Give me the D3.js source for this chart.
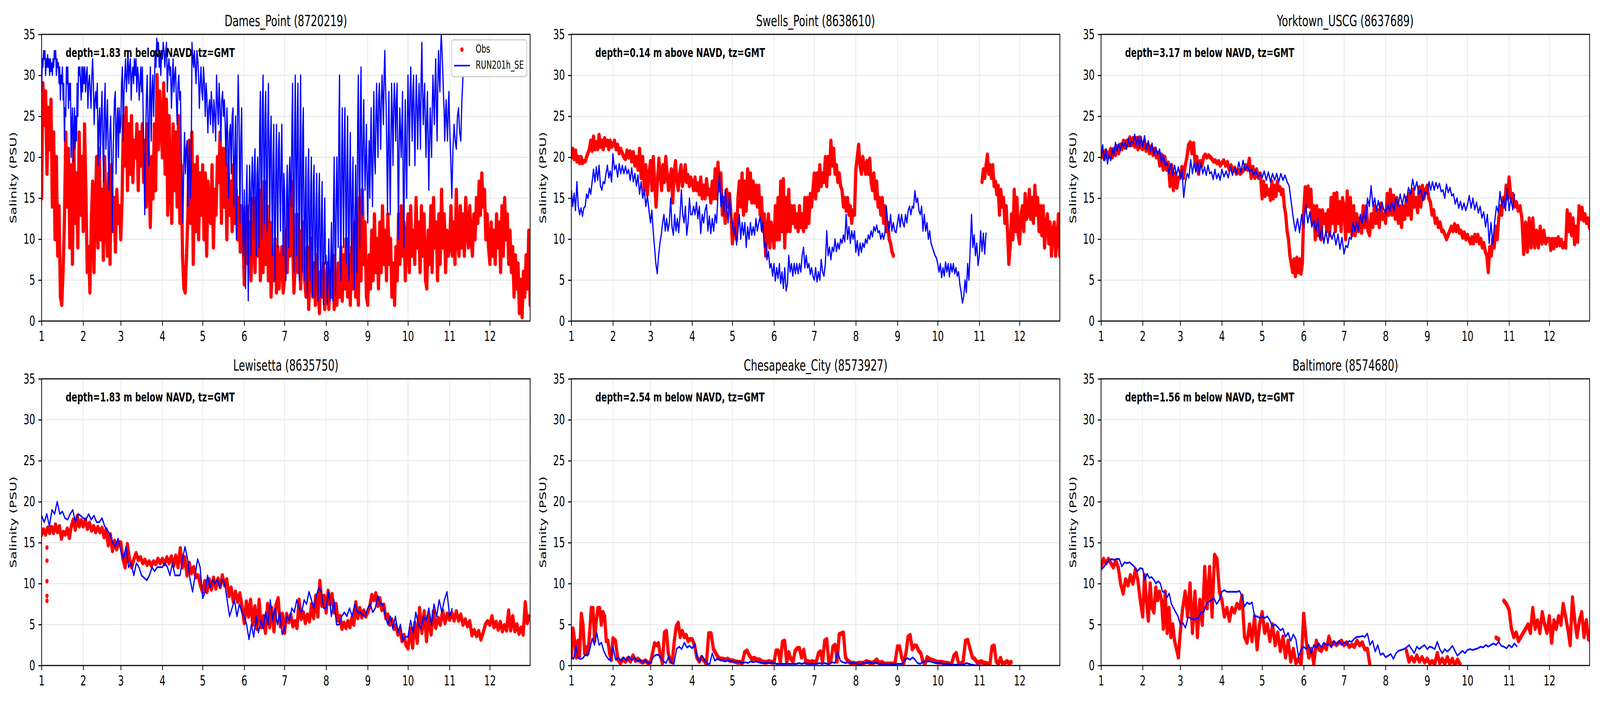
<!DOCTYPE html>
<html>
<head>
<meta charset="utf-8">
<script src="https://cdn.jsdelivr.net/npm/d3@7"></script>
<style>
html, body { margin: 0; background: #fff; overflow: hidden; }
text { font-family: "DejaVu Sans", sans-serif; fill: #000; }
</style>
</head>
<body>
<script>
var year = 2017;
var gap = function(n) { return Array(n).fill(null); };

var stationNames = ["Dames_Point", "Swells_Point", "Yorktown_USCG", "Lewisetta", "Chesapeake_City", "Baltimore"];
var stationIds = ["8720219", "8638610", "8637689", "8635750", "8573927", "8574680"];
var depthNotes = ["1.83 m below", "0.14 m above", "3.17 m below", "1.83 m below", "2.54 m below", "1.56 m below"];
var monthLabels = [1, 2, 3, 4, 5, 6, 7, 8, 9, 10, 11, 12];
var salinityTicks = [0, 5, 10, 15, 20, 25, 30, 35];
var legendLabels = ["Obs", "RUN201h_SE"];

// every series is one list per month. values spread evenly inside the month
var damesObs = [
  [15,29,24,28,18,26,21,27,14,23,10,20,8,14,3,2,6,12,23,14,21,9,19,7,22,12,18,9,23,13,20],
  [11,24,16,6,9,3.5,12,17,6,14,20,9,21,10,16,7.5,20,12,8,18,7,19,11,15,8.5,16,12,14],
  [10,15,25,19,26,16,24,18,25,17,22,20,24,16,23,19,24,17,22,14,24,18,11.5,20,15,24,16,30,21,28,24],
  [20,29,18,27,13,25,17,12,24,16,23,14,25,12,19,8,4,3.5,8,13,22,12,23,7,19,11,20,10,18,13],
  [19,10,18,8,17,13,12,19,9,16,13,20,17,23,12,21,14,21,10,19,13,17,11,19,12,16,10,15,8.5,14,11],
  [4.5,9,14,7,12,5,10,15,6,13,8,16,5,13,6,17,7,14,5,12,3,8,5,10,3.5,9,4,7,9,3.5],
  [5,11,6,14,8,17,10,3.5,7,13,6,11,4,9,12,5,3,9,1.5,6,10,3,7,2,8,4,1,6,3,7,1.5],
  [4,7,1.5,6,3,8,1.5,5,2,7,3,9,2.5,8,4,10,3,8,2,9,4,12,3,7,2,15,5,16,7,12,3],
  [2,8,4,11,5,13,6,10,4,12,6,14,7,11,5,13,7,10,3,7,2,9,5,13,7,14,8,12,5,10],
  [13,6,14,8,11,7,15,9,12,6,14,8,13,5,4,11,7,14,6,15,9,12,5,13,7,16,9,13,6,11,8],
  [9,14,8,12,7,16,10,8,14,9,13,8,15,11,9,14,10,8,13,10,15,12,17,13,18,14,16,10,13,9],
  [7,12,8,11,7,13,9,12,6,14,8,15,10,13,7,11,6,9,3,8,4,7,1,5,0.5,6,3,8,4,11,2]
];
var damesModel = [
  [28,32,31,33,32,33,30,32,31,32.5,31,32,30,32,30.5,31.5,30,32,31,33,32,33,30,32,31,31.5,29,31,27,30,29,31,27,29,22,26,25,31,29,31,26,29,27,29,20,24,26,19.5,23,26,21,25,22,29,25,31,30,31,29,27,31,28],
  [31,29,31,28,30,31,26,29,30,28,26,30,32,29,24,27,28,26,29,19,24,26,20,25,28,22,17,26,29,21,24,27,20,16,23,25,21,11,19,24,27,28,18,24,26,20,26,23],
  [24,29,31,22,28,30,32,28,30,33,29,31,32,27,30,31,29,32,30,32,28,31,30,27,29,31,28,31,25,19,13,22,27,30,24,19,27,31,22,28,30,25,29,33,31,34.5,33,34,31,33,30,33],
  [32,34,33,31,33,34,28,31,32,30,31,26,29,32,28,30,31,27,24,29,30,27,28,20,17,12,19,23,18,21,22,14,19,22,15,18,34,32,31,33,31,29,33,32,30,26,29,31,28],
  [27,31,29,25,29,27,23,26,27,24,28,26,23,27,25,22,30,27,24,29,26,22,27,28,25,27,24,19,26,22,15,23,24,18,25,26,14,20,25,10,23,30,25,12,22,26,13,8],
  [16,10,4,15,19,10,2.5,14,19,15,8,17,20,16,10,19,21,14,8,18,20,15,9,24,28,17,10,26,30,20,12,25,28,18,11,24,29,20,12,22,25,15,8,20,24,11,5,19,24,14,9,21,23,16,11,20,24,15,8,18],
  [16,8,5,15,19,13,9,18,20,16,14,24,29,14,6,22,30,18,8,25,29,15,5,21,30,14,6,23,26,12,5,15,20,8,3,18,21,10,5,16,20,7,3,17,19,9,3,14,18,7,2.5,15,18,8,3,13,17,6,2,11,15,7],
  [8,4,2,7,10,5,2.5,8,12,6,2.5,14,20,9,3,15,20,14,9,24,30,13,5,19,26,16,9,22,26,15,7,19,25,12,5,17,23,13,6,16,20,10,4,13,19,12,6,24,30,18,9,25,31,20,13,22,27,21,16,20,24,17],
  [12,18,22,15,21,26,18,14,22,28,20,18,25,29,24,20,27,29,25,21,27,30,27,24,30,33,29,26,20,13,22,28,19,13,22,29,25,19,26,29,26,22,27,29,20,10,21,26,23,20,24,28,16,9,21,27,19,15,24],
  [30,25,19,28,31,26,22,28,30,24,19,26,30,26,21,26,29,25,21,30,34,28,24,27,29,24,20,25,28,22,16,22,26,23,20,26,30,27,24,29,32,26,22,29,33,30,28,33,35,33,31,28,26,22,25,27,24,22,26,28],
  [24,20,15,21,24,22,21,25,26,23,22,27,30].concat(gap(23)),
  []
];
var swellsObs = [
  [20,21,19.8,20.8,19.5,20,19.3,20,19.3,19.5,19.5,20,20.5,21,22,20.8,22.5,21,21.8,21,22.7,21.3,22,21,22.3,21.5,22,21,22,21.3],
  [21.5,22,21,21.5,20.5,21,20.5,20,19.8,20.8,20,20.7,19.5,20.6,19,20,18.5,21,17.5,20,16,19,15.5,18],
  [19.5,16,20,17,14,17,19.8,18,16,19,17,20,18,16,17.5,18.5,14.5,18,19.5,17,16,18,19,16.5,17.5,19,17,17.8,16.5,17.5],
  [17,16,17.5,16,16.8,15.5,17.5,15,16.5,15,17.3,15.5,16,14.5,17,15,18.5,15,19.3,16,18,13,15,12,16,14,15.5,13],
  [9.5,11,13,10,15,17,14,18,13,17,13.5,18.5,15,18,14.5,17,14.5,16.5,14,16.5,13,15,11,13,8,11,13,9,12,11],
  [9,14,10,15,10,17,11,17.3,9,15,11,16,11,14,12,14,11.5,13,11,14,11.5,13,11,15,11.5,15,12,15.5,14,16],
  [18,15,18,16,19,16.5,18,17,20,16.5,20,18,22,19,21,18,19,17,18,16.5,16,14,15,13.5,15,13,14,12,13.5,13],
  [18.5,20,21.5,19,18,20,19,18,19.5,18,19.8,17,16,18,15,17,14,15,13,15,12,14,11,12,10,9.5,8.5,8,null,null],
  gap(15),
  gap(15),
  [null,null,17,18.5,17.5,19,20.3,18,19,17.5,19,16.5,17,15.5,16.5,13,16,14,15,12,14,11,7,9,13,10,16,11,15,10.5],
  [9.5,13,14,11,15.5,12.5,13,16,12.5,15,12,16.5,13,15,11,14,10.5,14,9,12,13,9.5,12,8,11,12,8,10,13,8]
];
var swellsModel = [
  [16,14,15.6,13.5,17,14,13,13.8,12.8,13.8,14,15.5,15,16.2,15.5,17,18.5,17,18.8,17.2,19,16.5,16,17,16.8,18,19,17.5,18.3,17],
  [20.4,18.5,19,17.6,19.2,18,19,18,18.9,18,18.5,17.2,18.7,17,18,16.5,17.8,15.5,17,15,16,14,15.3,13.5],
  [12,13.5,11,9,7,5.8,8,9.5,10.5,12,13,11,12.5,11,12,15,11.5,10.5,13,11,12.5,10.8,13,16,13,12,14,10.5,12,15,13],
  [13,14,13,14.5,12.5,14,10.7,13,12,13.5,14.2,11,12.8,10.7,12.5,11,13,12,15.5,18,14,15.5,13,16,14,12,15.5,13],
  [12,10.5,11.5,9.3,11,13,10,12,10.5,12,9,11.5,10,12,10.5,11.5,10.5,12.5,11,12,12.7,11,12,9,9.5,7.5,8.5,6.5,7,5.5],
  [7,4.9,6.5,5.2,7,4.6,6,4,6.5,3.7,4.5,8,6,7,5.5,7,5.8,7,5.8,7,6,8,9,6.5,8,6.5,7,5.7,6.5,5.5],
  [5,6.5,4.8,6,5,7.5,6,5.5,7,11,8,9,7.5,9,8.5,10,8.5,9.5,8.8,10,9.5,10.5,9.7,13,10,11.5,9.5,11,10,11],
  [8.4,9.8,8,9.5,8.4,9.5,9,10,9.5,10.5,10,11,10.3,11.5,11,11.7,10.8,11,10,10.7,10,10.8,14,12,11,13,11,12,11,10.8],
  [12,13,11.5,13,12,11.5,13,12,13.5,14,13,14,13.8,15.9,14.5,15,13.5,13,14,11,13,11,12,10,11,9.5,9,8.5,8,7.7],
  [7,6,7,5.3,6.5,5.5,7.2,6,7,5.4,7,6,7,5.8,6.5,5.5,6,4.5,3.5,2.2,3,5,3.5,7,5,9,13,9,10.5,8,9.5,6.8],
  [8,11,8.5,10.7,8.2,10.8].concat(gap(24)),
  []
];
var yorktownObs = [
  [20,20.7,19.8,20.8,20,20.5,21,20,21,20.3,21.3,20.5,21.5,21,22,21.2,22,21.5,22.4,21.5,22.3,21.3,22.3,21,22.4,21.2],
  [21,22,20.8,21.5,20.5,21.3,20.3,21,20,20.5,19,20.3,18.5,20,18.5,19.3,16.5,19,16,18,16.3,17.5],
  [17.5,18.8,17.5,19,20,21.5,21.8,20.5,21.7,19,20,18,19.5,19,20,20.3,20,20.2,20,19.8,19.5,19.6,19.3,19.5,19],
  [19.3,19.6,19,19.4,18.5,19,18.3,18.7,18,18.4,18,18.2,18.5,19,18.5,19.8,17.5,18.8,17.5,18.5,17.5,18],
  [15,17,15.3,16.5,15.5,16,14.8,17,15,16.5,15.3,17,16,16.3,15.5,16,14,13,11,10,8,7,6,7.5,5.5,7.7,6,7.5,5.8,7],
  [13.5,16.3,14,16.4,14,16,12,14,10,14,10.5,13.5,10,13.5,12,13,11,13.5,10.5,15,12,15.5,11,15.6,12,14.5,11,15],
  [14,10,15.8,11,15,10.5,14,10.5,13,11,12.5,10.8,14,11.5,14,11,10.5,13,11.5,14,12,13.5,11.5,14.3,12.5,13],
  [12,15.5,13,16,13,15.3,12.5,15,12,14,11.5,14,12.5,15,13,15.5,12.5,16,14,15,13.3,16.3,14,16.5,15,16],
  [16.5,15,14.5,13,13.5,12,12.5,11.5,12,11,11,10.5,10,10.5,11,11.5,11,11.8,11,11.6,10.8,11,10.2,10.8,10],
  [10.5,10,9.5,10.2,9.5,10.5,9.8,10.5,9.5,10,9,9.5,8.5,8,6,9,8,10,9,11.5,10,12.5,14,13,15,14,16.5,15],
  [17.5,15,15.5,14,14.5,13.5,14,12.5,8.2,12,8.5,12.5,9,12.5,9,11,9,11.5,9.5,11,9.5,10],
  [10,8.7,10,8.9,10,9.2,10.2,9.3,9.9,9,9.5,9,13.5,11,13,10.5,12.5,9.4,11.5,9.7,14,12.5,13.8,12.3,13,12,12.5,11.4]
];
var yorktownModel = [
  [20,21.5,19.6,21,19.2,20.3,19.6,21,20.3,21.8,20.8,21.6,20.8,21.8,21.2,21.8,21,22.3,21.3,22,21.7,22.8,21.5,22.5,21.2,22.5],
  [21.3,22.6,21,22,20.8,21.7,20.3,21.2,20.3,21,19.3,20.3,19,19.3,18,19.2,17.8,19,17.8,18.8],
  [17.5,18.5,15.1,17,18,17.5,19.7,18,19.3,18.2,19.5,18,19.2,18,18.8,17.8,19,18,18.2,17.3,18.5,17.4,18,17.2],
  [18.5,17.6,18.3,17.5,18.8,17.8,18.7,18,19.4,18.2,19.6,18.4,19,18.2,18.6,17.8,18.4,17.6,18],
  [17.5,18.3,17.2,18.2,17,18,17.2,18,17,18,17.2,17.8,17,16.5,14.5,12.5,11,12.5,10.8,13],
  [11.5,14.2,12,13.3,11.5,12.3,11,12.5,10,11.5,9.5,11,9.5,11,10,10.8,9.3,10.6,8.8,10.2],
  [8.2,9.2,9,10.2,10,12,11,12,11,13,12,13.3,12,15,14,16.5,14,15,13.5,14.7,13.5,14.5,13.6],
  [13.2,14.3,13.4,14.5,13.5,15,14,15.5,14.2,15.5,14.5,16.3,15.5,17.3,16,17,15.5,16,14.7,15.8],
  [15.5,17,16,17,16,16.9,16.2,16.8,15.8,16,15,16.7,15.7,16.3,15.3,15.5,14.3,15,13.8,14.6,13.6,14.4,13.5],
  [14.2,15.3,13.8,15,13.6,14.5,13.2,14,12.6,13.3,11.5,13,9.5,12,9.4,12,14,13.3,15.8,14,15,13.5,16.2],
  [13.5,15,13.6,15.5].concat(gap(18)),
  []
];
var lewisettaObs = [
  [16,16.6,16,16.8,16.2,16.9,16.2,17.2,16.3,17,15.5,16.3,16,16.7,15.6,17,17.8,16.6,18.2,17,17.7],
  [17,17.8,16.7,17.4,16.5,17,16.3,16.9,16.3,16.8,15.7,16.6,14.7,16,14,15.2,14.2,15],
  [15,13,12,14.8,13,12,13,13.7,12.9,13.2,12.5,12.9,12.3,12.7,12.2,12.7,12.4,13,12.5],
  [13,12.4,13.2,12.5,13.3,12.2,13.4,12,14.3,12,13.2,11,12.5,11.3,12,10.8,11,9.8],
  [9,10.3,9,10.5,9.3,10.7,9.4,10.6,9.6,11,9.8,10.5,8.5,9.5,7.8,9,7.8,8.8,7.2],
  [5.2,7.8,6,8,5,7.2,4.5,8,4.7,6,4,7.5,4.7,7,4.2,7.4,8.2,4.8,6.3],
  [4,6.3,5.3,6.2,4.8,5.4,4.6,8,5.7,6.5,5.2,6.2,5.4,7.5,5.8,8.5,6,10.3,7.3,8.5],
  [6.5,9.1,7.5,8.7,6.5,7.5,5.5,6,4.5,5.2,4.6,5.4,4.7,5.8,5,7.7,5.8,7,5.9,6.7,6],
  [6.5,7.2,8.6,8,8.8,7.3,8.2,6.8,7.4,5.8,6.2,5,5.6,4.5,4.9,3.8,4.4,3,3.7,2.5],
  [2.1,4.5,2.2,5.2,2.8,7,4,6.6,3,6.2,3.8,6.6,4.6,5.8,5,6.7,5.2,6.3],
  [5.6,6.4,5.5,6.6,5.5,6.2,5,5.6,4.8,5.4,3.7,4.3,3.6,4.2,3.2,4,5,5.4],
  [5,6,4.7,5.3,4.4,5.3,4.2,4.9,4.3,6.7,4.3,6,4.2,5,3.9,4.6,3.8,7.7,5.2,6]
];
// the few January dots that sit apart from the band
var lewisettaStrayDays = [4, 4, 4, 4, 4];
var lewisettaStrayValues = [14.4, 12.8, 10.3, 8.5, 7.9];
var lewisettaModel = [
  [18.3,17.5,18.5,17,19,18.5,20,18.5,18.8,18,17.8,18.5,19,17.5,18.5,18.3],
  [18,17.8,18.5,17.8,18.3,17.5,17.5,18,17,16.5,16,15,14.5,15.5],
  [14,13,14.5,12,12.5,11,12.5,12,11,10.7,10.4,11,12,11.5,12,12],
  [12,12.5,12,11,12.5,11,11,11,13,14.5,13,10.5,9,11,13,12],
  [8.2,9,11,9.5,10.5,10,10.5,9.5,10.5,10,8,6,7,8,6,7.5,6.5],
  [6,5,3.2,5,3.5,6,4,5.5,4.5,6.5,5,8,5.5,7,5,6.5,3.8],
  [4.5,6,5.5,7,6.5,8,7,6.5,8,7.5,9,8,7,8.5,9.5,9,7],
  [7,9,6,8,5,5,6,6.5,6,7,6,7.5,6.5,6.5,6.2,6],
  [7,7.5,6.5,7,8.5,7.5,7.5,6,5,6,4.5,6,4,5,3,3.5],
  [3.5,5.5,4,6.5,5,4.5,6,5.5,7,5,7.5,6,8,6.5,8,9],
  [6,7].concat(gap(13)),
  []
];
var chesapeakeObs = [
  [1,4.5,3,1,3,1.2,6.3,5,1.5,2.2,1.5,4,7,7,3,5.5,7,7,5,6.5,6,3,3,1.5,0.7],
  [3.3,3,0.7,0.3,0.8,0.5,0.9,0.5,1.2,0.6,0.8,0.5,0.4,0.6,0.3],
  [0.4,1.5,2.7,2.5,2.7,1.2,0.3,4,4.2,1.5,0.5,0.6,3,4.8,5.2,3.5,4.2,3.5,3.7,3,3.2],
  [3.2,2.5,1,0.5,1,0.6,0.2,3.9,3.9,2,1.5,1,0.8,0.8,0.7,0.8,0.6],
  [0.6,0.5,0.4,0.4,0.3,1.6,1.8,1.2,0.8,0.9,0.7,0.7,0.5,0.4,0.4,0.5,0.4],
  [0.4,1.8,1.8,0.4,2.9,3,0.4,1.6,0.8,0.5,1.8,2.1,2.1,1,1.9,0.5,0.5,0.4,0.5],
  [0.4,0.5,1.5,1.7,0.4,3,3.2,0.4,0.6,2.3,2.5,0.5,3.8,3.9,4,1,0.6,0.4,0.3,0.3],
  [0.2,0.3,0.3,0.3,0.5,0.4,0.3,0.4,0.7,0.3,0.4,0.2,0.2,0.2,0.2,0.2],
  [2.3,2.3,1,0.3,1.5,3.5,3.7,2,2.4,2.4,1.8,1.5,0.5,0.2,1,0.8,0.7,0.6,0.5],
  [0.4,0.4,0.4,0.3,0.3,0.2,0.2,1.2,1.5,0.3,0.2,0.5,3,3.1,2,1,0.8,0.4],
  [0.4,0.5,0.3,0.3,0.2,0.2,2.3,2.4,0.5,0.2,0.9,0.2,0.3,0.5,0.3,0.4,null,null,null],
  []
];
var chesapeakeModel = [
  [1,0.8,2.4,0.9,0.8,0.9,1.3,1.2,2,3.3,2.5,4,2.5,2.8,1.8,1.2,0.8,0.6],
  [2.3,0.7,1,0.6,1,0.6,1.1,0.6,1,0.5,0.7,0.4,0.6,0.3],
  [0.3,1,1.3,1.3,0.9,0.5,0.3,1.1,0.3,0.2,2,2.3,2,2.8,2.2,2.4],
  [2.1,2.6,1,0.5,1.2,0.6,0.2,0.2,1.5,0.6,0.8,0.7,0.6,0.5,0.6,0.6],
  [0.5,0.4,0.5,0.4,0.3,0.4,0.3,0.5,0.4,0.5,0.4,0.3,0.3,0.3,0.3,0.3],
  [0.3,0.2,0.2,0.2,0.2,0.2,0.2,0.2,0.2,0.2,0.3,0.2,0.3,0.2,0.2,0.2],
  [0.2,0.2,0.3,0.2,0.3,0.2,0.2,0.4,0.3,1.7,0.6,0.4,0.3,0.4,0.3,0.3],
  [0.3,0.2,0.2,0.3,0.3,0.4,0.3,0.3,0.3,0.2,0.2,0.2,0.2,0.2,0.2,0.1],
  [0.2,0.2,0.2,0.7,0.9,0.7,1,0.7,0.3,0.2,0.4,0.5,0.5,0.5,0.4,0.3],
  [0.3,0.3,0.2,0.2,0.2,0.1,0.1,0.1,0.1,0.05,0.1,0.3,0.2,0.1,0.05,0],
  [0,0].concat(gap(13)),
  []
];
var baltimoreObs = [
  [12,13,12.5,13,12.5,12,12.8,12,10,8.8,10.5,9.8,11,10,11.7,10.5,8],
  [6,11,8,5.5,10,7,6.5,9.5,8,9,8,4.5,9,4,7,3.5,5,3,2,1],
  [4,7,9,6,10,4,9,3.5,8,5,12,7,12,6,13.5,13,9],
  [8,6,7,5.5,7,6.5,7.5,7,8.5,3.5,2.8,5,3,6,2,5],
  [6.5,4,5,3,5,2.5,4,1.8,3.5,1,3,0.5,2,0.3,0.8,0.2],
  [6.3,3,1,2,0.2,3,2,1.8,2.5,2,3.5,2.5,2.8,2.5,2.8,3],
  [2.5,2.8,2.3,2.5,2.3,3,2.5,2.8,2,2,0].concat(gap(5)),
  gap(8).concat([1.8,0.5,1,0.5,1.2,0.5,1,0.4]),
  [0.8,0.3,0.5,0.2,1.5,0.3,0.8,0.2,1,0.2,0.8,0,0.7,0.2,null,null],
  gap(11).concat([3.4,3.2,null,7.9,7.5]),
  [6.8,4.5,3.5,4,3,3.5,4,4.5,5,4,7,4.5,5.5,4,6.5,5,4],
  [6,2.8,5.5,4.5,6,5,7.5,6,4.5,2.5,8.3,5.5,3.5,5.5,6.5,3.5,5.5,3.2]
];
var baltimoreModel = [
  [11.7,12,12.5,12.8,13,12.9,13,13,12.1,12.6,12.5,12.6,12.3,12,11.5,11.9],
  [11.8,10.5,11.2,10.7,10.8,10.5,10,10.3,10,9,9,8.3,8.8,7.5,7,6.5,6],
  [5,5.2,4.6,5.9,5.8,5.6,5.7,5.8,6.5,6.5,7.5,7.8,8,8.2,7.5,8],
  [9,9.2,9,9,9,9,9,9.1,8.5,7.2,7.7,7.5,7.7,6,6,5.8],
  [6,5.8,6,5.5,4.8,5,4.7,4.3,4.5,3.5,4,3,3.8,3.2,1,2],
  [2.3,2,2.5,1.5,2.5,2.2,2.7,2.2,2.8,2.5,2.6,2.2,3,2.6,3,2.5],
  [2.8,2.6,3,2.9,3.3,3.5,3.5,3.6,3.5,3.9,2.5,3,1.7,2.5,1.3,1.5],
  [1,1.2,1.4,0.8,1.5,1.8,1.9,2,2.2,2.5,2,1.5,2.3,2,2.3,2.5],
  [2,2.3,2.2,2,2.9,2,1.5,2,1.7,2,2.4,1.8,1.2,1.5,1.8,1.5],
  [1.9,2,1.9,2,2.1,2.3,2.2,2.5,2.3,2.5,2.7,2.5,2.9,2.4,2.3,2.1],
  [2.5,2.2,2.7,2.3].concat(gap(11)),
  []
];

var obsByStation = [damesObs, swellsObs, yorktownObs, lewisettaObs, chesapeakeObs, baltimoreObs];
var modelByStation = [damesModel, swellsModel, yorktownModel, lewisettaModel, chesapeakeModel, baltimoreModel];

var width = 6000, height = 1800;
var panelW = 1832, panelH = 734;
var panelLeft = [156, 2142.5, 4129];
var panelTop = [88, 970];

// the browser window comes out 4096x1800 (limit), so the 6000x1800 drawing is stretched to fill it
var svg = d3.select("body").append("svg")
    .attr("viewBox", "0 0 " + width + " " + height)
    .attr("preserveAspectRatio", "none")
    .style("width", "100vw").style("height", "100vh")
    .style("display", "block").style("background", "#fff");

// month lists -> {t, v}, keeps the nulls so the line breaks there
function toPoints(months) {
    var out = [];
    months.forEach(function(vals, m) {
        var t0 = Date.UTC(year, m, 1), t1 = Date.UTC(year, m + 1, 1);
        vals.forEach(function(v, j) {
            out.push({ t: new Date(t0 + (t1 - t0) * j / vals.length), v: v });
        });
    });
    return out;
}

var x = d3.scaleUtc()
    .domain([new Date(Date.UTC(year, 0, 1)), new Date(Date.UTC(year, 11, 31))])
    .range([0, panelW]);
var y = d3.scaleLinear().domain([0, 35]).range([panelH, 0]);
var monthStarts = monthLabels.map(function(m) { return new Date(Date.UTC(year, m - 1, 1)); });

var line = d3.line()
    .defined(function(d) { return d.v !== null; })
    .x(function(d) { return x(d.t); })
    .y(function(d) { return y(d.v); });

stationNames.forEach(function(name, i) {
    var g = svg.append("g")
        .attr("transform", "translate(" + panelLeft[i % 3] + "," + panelTop[Math.floor(i / 3)] + ")");

    g.append("clipPath").attr("id", "clip" + i)
        .append("rect").attr("width", panelW).attr("height", panelH);

    //GRID.
    g.selectAll(".gx").data(monthStarts).enter().append("line")
        .attr("x1", function(d) { return x(d); }).attr("x2", function(d) { return x(d); })
        .attr("y1", 0).attr("y2", panelH)
        .style("stroke", "#e9e9e9").style("stroke-width", 2.8);
    g.selectAll(".gy").data(salinityTicks).enter().append("line")
        .attr("x1", 0).attr("x2", panelW)
        .attr("y1", function(d) { return y(d); }).attr("y2", function(d) { return y(d); })
        .style("stroke", "#e9e9e9").style("stroke-width", 2.8);

    var marks = g.append("g").attr("clip-path", "url(#clip" + i + ")");

    //OBS. thick round line under the dots, the real record has far more dots than can be read
    var obs = toPoints(obsByStation[i]);
    marks.append("path").datum(obs).attr("d", line)
        .style("fill", "none").style("stroke", "#ff0000").style("stroke-width", 12)
        .style("stroke-linecap", "round").style("stroke-linejoin", "round");
    marks.selectAll(".obs").data(obs.filter(function(d) { return d.v !== null; })).enter().append("circle")
        .attr("cx", function(d) { return x(d.t); }).attr("cy", function(d) { return y(d.v); })
        .attr("r", 6).style("fill", "#ff0000");

    if (name === "Lewisetta") {
        marks.selectAll(".stray").data(lewisettaStrayValues).enter().append("circle")
            .attr("cx", function(d, k) { return x(new Date(Date.UTC(year, 0, 1 + lewisettaStrayDays[k]))); })
            .attr("cy", function(d) { return y(d); })
            .attr("r", 6).style("fill", "#ff0000");
    }

    //MODEL.
    marks.append("path").datum(toPoints(modelByStation[i])).attr("d", line)
        .style("fill", "none").style("stroke", "#0000ff").style("stroke-width", 4.5)
        .style("stroke-linejoin", "round");

    //AXES.
    var xAxis = g.append("g").attr("transform", "translate(0," + panelH + ")")
        .call(d3.axisBottom(x).tickValues(monthStarts)
            .tickFormat(function(d) { return d.getUTCMonth() + 1; })
            .tickSize(12).tickPadding(14));
    var yAxis = g.append("g")
        .call(d3.axisLeft(y).tickValues(salinityTicks).tickSize(12).tickPadding(12));
    [xAxis, yAxis].forEach(function(a) {
        a.select(".domain").remove();
        a.selectAll("line").style("stroke", "#000").style("stroke-width", 2.8);
        a.selectAll("text").style("font-size", "34.7px").style("font-family", '"DejaVu Sans"');
    });

    g.append("rect").attr("width", panelW).attr("height", panelH)
        .style("fill", "none").style("stroke", "#000").style("stroke-width", 2.8);

    //TEXTS.
    g.append("text").attr("x", panelW / 2).attr("y", -21)
        .attr("text-anchor", "middle").style("font-size", "38.2px")
        .text(name + " (" + stationIds[i] + ")");
    g.append("text").attr("x", 90).attr("y", 58)
        .style("font-size", "31.25px").style("font-weight", "bold")
        .text("depth=" + depthNotes[i] + " NAVD, tz=GMT");
    g.append("text")
        .attr("transform", "translate(-94," + (panelH / 2) + ") rotate(-90)")
        .attr("text-anchor", "middle").style("font-size", "34.7px")
        .text("Salinity (PSU)");

    //LEGEND. only the first panel has one
    if (i === 0) {
        var lg = g.append("g").attr("transform", "translate(1538,14)");
        lg.append("rect").attr("width", 281).attr("height", 94).attr("rx", 6)
            .style("fill", "#fff").style("fill-opacity", 0.8)
            .style("stroke", "#cccccc").style("stroke-width", 2.8);
        lg.append("circle").attr("cx", 38).attr("cy", 25).attr("r", 6).style("fill", "#ff0000");
        lg.append("line").attr("x1", 9).attr("x2", 68).attr("y1", 66).attr("y2", 66)
            .style("stroke", "#0000ff").style("stroke-width", 4.2);
        lg.selectAll(".lab").data(legendLabels).enter().append("text")
            .attr("x", 90).attr("y", function(d, k) { return 33 + k * 41; })
            .style("font-size", "27.8px")
            .text(function(d) { return d; });
    }
});
</script>
</body>
</html>
